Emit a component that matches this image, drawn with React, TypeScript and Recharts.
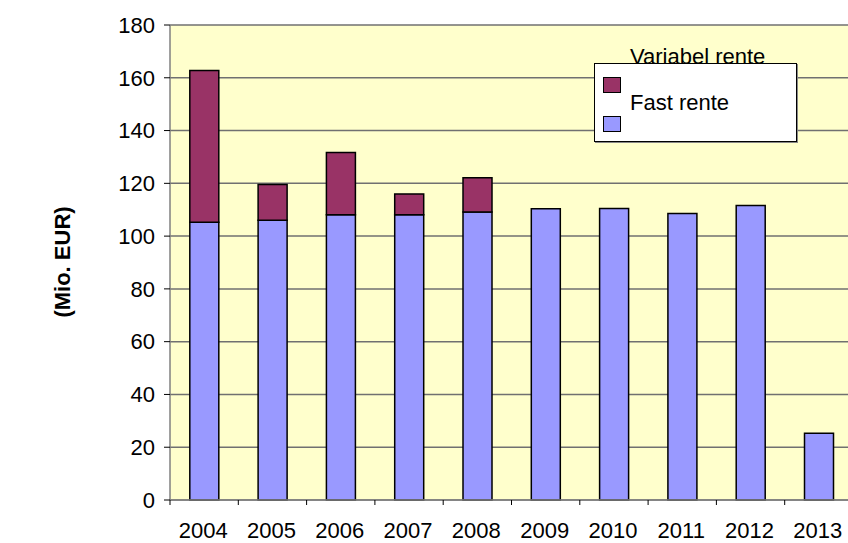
import React from "react";
import { BarChart, Bar, XAxis, YAxis, CartesianGrid, Label } from "recharts";

const years = ["2004", "2005", "2006", "2007", "2008", "2009", "2010", "2011", "2012", "2013"];
const fastRente = [105.3, 106, 108.1, 108.1, 109.1, 110.4, 110.5, 108.6, 111.6, 25.3];
const variabelRente: (number | null)[] = [57.5, 13.6, 23.6, 7.9, 13, null, null, null, null, null];
const yTicks = [0, 20, 40, 60, 80, 100, 120, 140, 160, 180];

const data = years.map((y, i) => ({ year: y, fast: fastRente[i], variabel: variabelRente[i] }));

const FONT = "'Liberation Sans', Arial, sans-serif";
const FS = 22;
const CHART_W = 870;
const CHART_H = 543;
const PLOT_LEFT = 170;
const PLOT_RIGHT_PAD = 17;
const PLOT_BOTTOM = 500;
const BAND = (CHART_W - PLOT_LEFT - PLOT_RIGHT_PAD) / years.length;

function XTick(props: any) {
  const { x, payload } = props;
  const left = x - BAND / 2;
  return (
    <g>
      <line x1={left} x2={left} y1={PLOT_BOTTOM} y2={PLOT_BOTTOM + 5} stroke="#000" strokeWidth={1} />
      <text x={x - 1} y={PLOT_BOTTOM + 38} textAnchor="middle" fontSize={FS} fontFamily={FONT} fill="#000">
        {payload.value}
      </text>
    </g>
  );
}

function LegendBox() {
  const sw = { position: "absolute" as const, left: 8, width: 18, height: 16, border: "1px solid #000", boxSizing: "border-box" as const };
  const txt = { position: "absolute" as const, left: 35, fontSize: FS, fontFamily: FONT, color: "#000", whiteSpace: "nowrap" as const, lineHeight: "24px" };
  return (
    <div style={{ position: "absolute", left: 594, top: 63, width: 203, height: 79, background: "#fff", border: "1px solid #000", boxSizing: "border-box", boxShadow: "1px 1px 0 #888" }}>
      <div style={{ ...txt, top: -19 }}>Variabel rente</div>
      <div style={{ ...sw, top: 13, background: "#993366" }} />
      <div style={{ ...txt, top: 27 }}>Fast rente</div>
      <div style={{ ...sw, top: 52, background: "#9999FF" }} />
    </div>
  );
}

export default function App() {
  return (
    <div style={{ position: "fixed", left: 0, top: 0, width: 848, height: 543, overflow: "hidden", background: "#fff" }}>
      <BarChart
        width={CHART_W}
        height={CHART_H}
        data={data}
        margin={{ top: 25, right: PLOT_RIGHT_PAD, left: 0, bottom: 0 }}
        barCategoryGap="29%"
      >
        <CartesianGrid vertical={false} fill="#FFFFCC" stroke="#707070" strokeWidth={1.5} />
        <XAxis
          dataKey="year"
          height={CHART_H - PLOT_BOTTOM}
          axisLine={{ stroke: "#808080", strokeWidth: 1.5 }}
          tickLine={false}
          tick={<XTick />}
          interval={0}
        />
        <YAxis
          width={PLOT_LEFT}
          domain={[0, 180]}
          ticks={yTicks}
          interval={0}
          axisLine={{ stroke: "#808080", strokeWidth: 1.5 }}
          tickLine={{ stroke: "#000" }}
          tickSize={6}
          tickMargin={9}
          tick={{ fontSize: FS, fontFamily: FONT, fill: "#000" }}
        >
          <Label
            content={() => (
              <text
                x={62}
                y={262}
                transform="rotate(-90, 62, 262)"
                textAnchor="middle"
                dominantBaseline="central"
                fontSize={FS}
                fontWeight="bold"
                fontFamily={FONT}
                fill="#000"
              >
                (Mio. EUR)
              </text>
            )}
          />
        </YAxis>
        <Bar dataKey="fast" stackId="a" fill="#9999FF" stroke="#000" strokeWidth={1.5} isAnimationActive={false} />
        <Bar dataKey="variabel" stackId="a" fill="#993366" stroke="#000" strokeWidth={1.5} isAnimationActive={false} />
      </BarChart>
      <LegendBox />
    </div>
  );
}
